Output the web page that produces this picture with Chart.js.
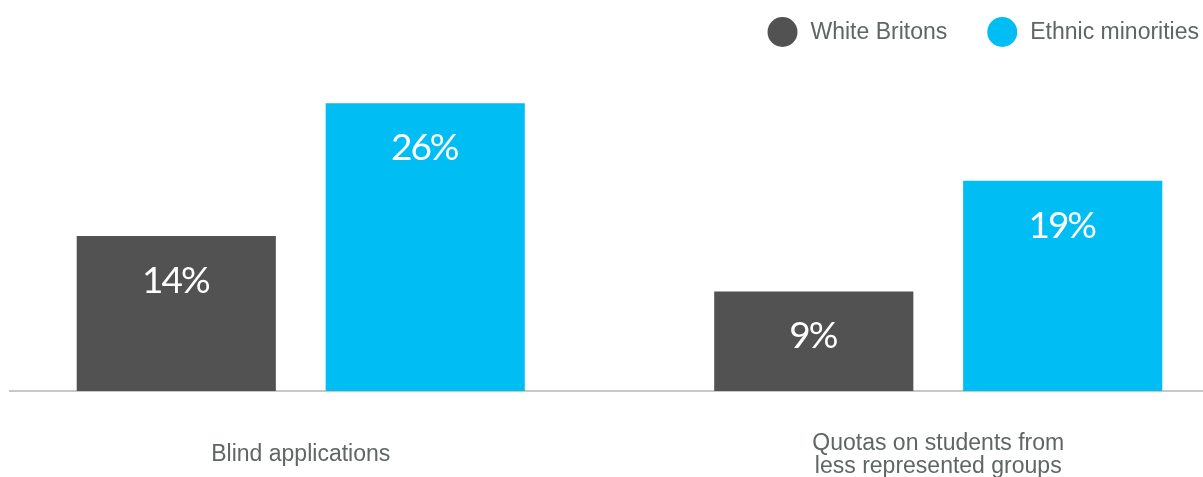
<!DOCTYPE html>
<html>
<head>
<meta charset="utf-8">
<script src="https://cdn.jsdelivr.net/npm/chart.js@4/dist/chart.umd.min.js"></script>
<style>
  html, body { margin: 0; padding: 0; background: #fff; overflow: hidden; width: 1203px; height: 477px; }
  /* canvas is a bit wider/taller than the page so the plot area lines up edge to edge */
  #wrap { position: absolute; left: -18px; top: 0; width: 1275px; height: 542px; }
</style>
</head>
<body>
<div id="wrap"><canvas id="chart"></canvas></div>
<script>
const categories = ["Blind applications", ["Quotas on students from", "less represented groups"]];
const seriesNames = ["White Britons", "Ethnic minorities"];
const whiteBritons = [14, 9];
const ethnicMinorities = [26, 19];
const colors = ["#525252", "#00bef3"];

const textGrey = "#5f6664";
const shiftX = 18; // canvas starts 18px left of the page

// baseline under the bars
const baseline = {
  id: "baseline",
  beforeDatasetsDraw(chart) {
    const { ctx } = chart;
    const y = chart.scales.y.getPixelForValue(0);
    ctx.save();
    ctx.strokeStyle = "#c8c8c8";
    ctx.lineWidth = 2;
    ctx.beginPath();
    ctx.moveTo(9 + shiftX, y);
    ctx.lineTo(chart.width, y);
    ctx.stroke();
    ctx.restore();
  }
};

// white value labels inside the top of each bar
const valueLabels = {
  id: "valueLabels",
  afterDatasetsDraw(chart) {
    const { ctx } = chart;
    ctx.save();
    ctx.fillStyle = "#fff";
    ctx.font = "37px Lato, 'Open Sans', sans-serif";
    ctx.letterSpacing = "-2px";
    ctx.textAlign = "center";
    ctx.textBaseline = "alphabetic";
    chart.data.datasets.forEach((ds, i) => {
      chart.getDatasetMeta(i).data.forEach((bar, j) => {
        ctx.fillText(ds.data[j] + "%", bar.x - 1, bar.y + 57);
      });
    });
    ctx.restore();
  }
};

// legend in the top right corner, right aligned
const cornerLegend = {
  id: "cornerLegend",
  afterDraw(chart) {
    const { ctx } = chart;
    const r = 15, cy = 32, gapText = 14, gapItem = 39;
    ctx.save();
    ctx.font = "23px 'Liberation Sans', Arial, sans-serif";
    ctx.textBaseline = "middle";
    ctx.textAlign = "left";
    let x = 1199 + shiftX;
    const items = chart.data.datasets.slice().reverse();
    items.forEach(ds => {
      const w = ctx.measureText(ds.label).width;
      const tx = x - w;
      ctx.fillStyle = textGrey;
      ctx.fillText(ds.label, tx, cy + 1);
      const cx = tx - gapText - r;
      ctx.fillStyle = ds.backgroundColor;
      ctx.beginPath();
      ctx.arc(cx + 1, cy, r, 0, Math.PI * 2);
      ctx.fill();
      x = cx - r - gapItem;
    });
    ctx.restore();
  }
};

new Chart(document.getElementById("chart"), {
  type: "bar",
  data: {
    labels: categories,
    datasets: [
      { label: seriesNames[0], data: whiteBritons, backgroundColor: colors[0] },
      { label: seriesNames[1], data: ethnicMinorities, backgroundColor: colors[1] }
    ]
  },
  options: {
    responsive: true,
    maintainAspectRatio: false,
    animation: false,
    events: [],
    layout: { padding: { left: 0, right: 0, top: 59, bottom: 0 } },
    datasets: {
      bar: { categoryPercentage: 0.781, barPercentage: 0.8, borderWidth: 0 }
    },
    plugins: {
      legend: { display: false },
      tooltip: { enabled: false }
    },
    scales: {
      x: {
        grid: { display: false, drawTicks: false },
        border: { display: false },
        ticks: {
          color: textGrey,
          padding: 52.5,
          maxRotation: 0,
          autoSkip: false,
          crossAlign: "center",
          font: { family: "'Liberation Sans', Arial, sans-serif", size: 23, lineHeight: "23px" }
        }
      },
      y: {
        display: false,
        min: 0,
        max: 30
      }
    }
  },
  plugins: [baseline, valueLabels, cornerLegend]
});
</script>
</body>
</html>
